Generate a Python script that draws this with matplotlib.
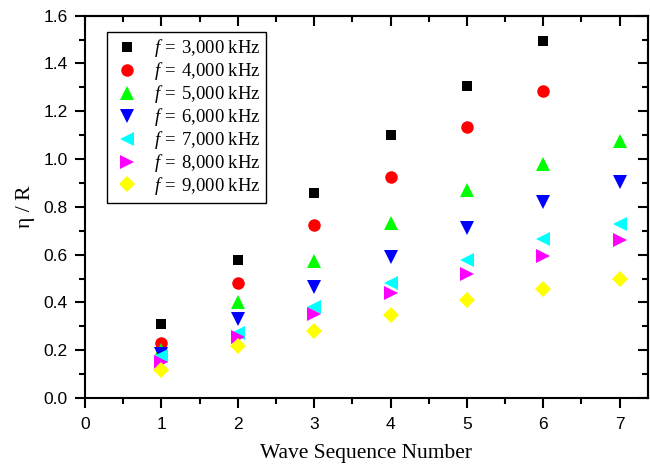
import matplotlib
matplotlib.use('Agg')
from matplotlib import pyplot as plt
from matplotlib.ticker import MultipleLocator

wave = [1, 2, 3, 4, 5, 6, 7]

freqs = ['3,000', '4,000', '5,000', '6,000', '7,000', '8,000', '9,000']
f3000 = [0.31, 0.577, 0.86, 1.10, 1.305, 1.494]
f4000 = [0.231, 0.48, 0.725, 0.925, 1.133, 1.285]
f5000 = [0.20, 0.40, 0.573, 0.733, 0.870, 0.980, 1.077]
f6000 = [0.184, 0.329, 0.466, 0.591, 0.710, 0.820, 0.902]
f7000 = [0.176, 0.270, 0.380, 0.480, 0.577, 0.664, 0.727]
f8000 = [0.152, 0.256, 0.351, 0.440, 0.518, 0.595, 0.660]
f9000 = [0.117, 0.218, 0.282, 0.347, 0.410, 0.457, 0.497]

series = [f3000, f4000, f5000, f6000, f7000, f8000, f9000]
colors = ['black', '#FF0000', '#00FF00', '#0000FF', '#00FFFF', '#FF00FF', '#FFFF00']
markers = ['s', 'o', '^', 'v', '<', '>', 'D']
sizes = [7.5, 9, 10, 10, 10, 10, 8]

plt.rcParams['mathtext.fontset'] = 'custom'
plt.rcParams['mathtext.it'] = 'Liberation Serif:italic'
plt.rcParams['mathtext.rm'] = 'Liberation Serif'

fig = plt.figure(figsize=(6.5, 4.66), dpi=100)
ax = fig.add_axes([0.1308, 0.1459, 0.866, 0.8204])

for vals, fr, c, m, s in zip(series, freqs, colors, markers, sizes):
    lbl = r'$\mathit{f}\,=\;\mathrm{' + fr.replace(',', '{,}') + r'\ kHz}$'
    ax.plot(wave[:len(vals)], vals, linestyle='none', marker=m, color=c,
            markersize=s, markeredgewidth=0, label=lbl)

ax.set_xlim(0, 7.37)
ax.set_ylim(0, 1.6)
ax.xaxis.set_major_locator(MultipleLocator(1))
ax.xaxis.set_minor_locator(MultipleLocator(0.5))
ax.yaxis.set_major_locator(MultipleLocator(0.2))
ax.yaxis.set_minor_locator(MultipleLocator(0.1))
ax.yaxis.set_major_formatter(matplotlib.ticker.FormatStrFormatter('%.1f'))

ax.tick_params(which='both', direction='out', width=1.5, labelsize=12.5)
ax.tick_params(which='major', length=7)
ax.tick_params(which='minor', length=4)
ax.tick_params(axis='x', which='major', pad=7)
ax.tick_params(axis='y', which='major', pad=5.5)
for lab in ax.get_xticklabels() + ax.get_yticklabels():
    lab.set_fontfamily('Liberation Sans')

for sp in ax.spines.values():
    sp.set_linewidth(1.5)

top = ax.secondary_xaxis('top')
top.xaxis.set_major_locator(MultipleLocator(1))
top.xaxis.set_minor_locator(MultipleLocator(0.5))
top.tick_params(which='both', direction='in', width=1.5, labeltop=False)
top.tick_params(which='major', length=7)
top.tick_params(which='minor', length=4)
top.spines['top'].set_linewidth(1.5)

right = ax.secondary_yaxis('right')
right.yaxis.set_major_locator(MultipleLocator(0.2))
right.yaxis.set_minor_locator(MultipleLocator(0.1))
right.tick_params(which='both', direction='in', width=1.5, labelright=False)
right.tick_params(which='major', length=7)
right.tick_params(which='minor', length=4)
right.spines['right'].set_linewidth(1.5)

ax.set_xlabel('Wave Sequence Number', fontfamily='Liberation Serif', fontsize=15.5, labelpad=8)
ax.set_ylabel('η / R', fontfamily='Liberation Serif', fontsize=15.5, labelpad=6)

leg = ax.legend(loc='upper left', bbox_to_anchor=(0.039, 0.958), frameon=True,
                fancybox=False, edgecolor='black', framealpha=1,
                prop={'family': 'Liberation Serif', 'size': 13.5},
                handletextpad=0.7, labelspacing=0.05, borderpad=0.3,
                handlelength=1.5, borderaxespad=0)
leg.get_frame().set_linewidth(1.0)

fig.savefig('out.png', dpi=100)
